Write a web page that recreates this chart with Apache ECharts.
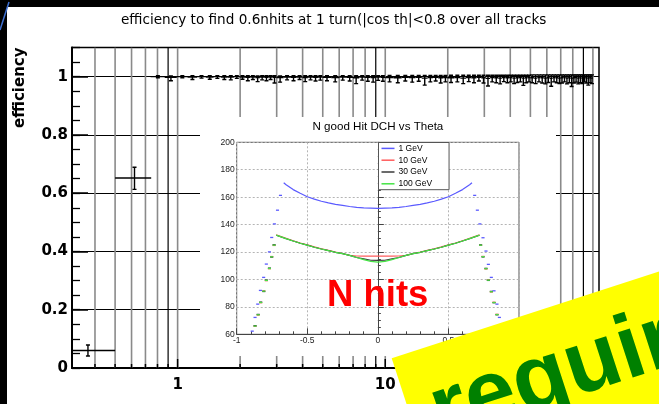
<!DOCTYPE html>
<html>
<head>
<meta charset="utf-8">
<script src="https://cdn.jsdelivr.net/npm/echarts@6/dist/echarts.min.js"></script>
<style>
  html, body { margin: 0; padding: 0; background: #fff; }
  #chart { width: 659px; height: 404px; }
</style>
</head>
<body>
<div id="chart"></div>
<script>
// ---------- main plot: efficiency vs momentum (log scale) ----------
const binEdges = [
  0.741, 0.866, 0.991, 1.116, 1.241, 1.366, 1.491, 1.616, 1.741, 1.866, 1.991,
  2.116, 2.241, 2.366, 2.491, 2.616, 2.741, 2.866, 2.991,
  3.241, 3.491, 3.741, 3.991, 4.241, 4.491, 4.741, 4.991,
  5.491, 5.991, 6.491, 6.991, 7.491, 7.991, 8.491, 8.991, 9.491, 9.991,
  10.99, 11.99, 12.99, 13.99, 14.99, 15.99, 16.99, 17.99, 18.99, 19.99,
  21.49, 22.99, 24.49, 25.99, 27.49, 28.99, 30.49, 31.99, 33.49, 34.99,
  36.49, 37.99, 39.49, 40.99, 42.49, 43.99, 45.49, 46.99, 48.49, 49.99,
  51.99, 53.99, 55.99, 57.99, 59.99, 61.99, 63.99, 65.99, 67.99, 69.99,
  71.99, 73.99, 75.99, 77.99, 79.99, 81.99, 83.99, 85.99, 87.99, 89.99,
  91.99, 93.99, 95.99, 97.99, 99.99
];
const effValues = [
  1.000, 0.998, 1.000, 0.999, 1.000, 0.999, 1.000, 0.999, 0.999, 1.000,
  0.999, 0.998, 0.999, 0.997, 0.999, 0.998, 0.999, 0.998,
  0.997, 0.999, 0.998, 0.999, 0.997, 0.999, 0.998, 0.999,
  0.998, 0.997, 0.999, 0.998, 0.996, 0.999, 0.998, 0.997, 0.999, 0.998,
  0.997, 0.996, 0.998, 0.997, 0.998, 0.995, 0.997, 0.998, 0.996, 0.997,
  0.996, 0.997, 0.995, 0.997, 0.996, 0.998, 0.996, 0.994, 0.997, 0.996,
  0.995, 0.997, 0.996, 0.997, 0.995, 0.996, 0.997, 0.995, 0.996, 0.997,
  0.996, 0.995, 0.997, 0.996, 0.995, 0.996, 0.994, 0.997, 0.996, 0.995,
  0.996, 0.997, 0.995, 0.996, 0.994, 0.996, 0.997, 0.995, 0.996, 0.995,
  0.997, 0.996, 0.995, 0.996, 0.995
];
const effErrDown = [
  0.004, 0.012, 0.004, 0.009, 0.005, 0.008, 0.006, 0.009, 0.010, 0.006,
  0.008, 0.012, 0.009, 0.014, 0.010, 0.012, 0.009, 0.020,
  0.016, 0.010, 0.012, 0.009, 0.014, 0.010, 0.013, 0.011,
  0.012, 0.015, 0.011, 0.013, 0.020, 0.011, 0.014, 0.016, 0.012, 0.014,
  0.015, 0.017, 0.013, 0.016, 0.014, 0.024, 0.015, 0.013, 0.018, 0.015,
  0.016, 0.015, 0.019, 0.014, 0.017, 0.013, 0.018, 0.026, 0.015, 0.017,
  0.020, 0.014, 0.017, 0.015, 0.019, 0.016, 0.015, 0.025, 0.017, 0.015,
  0.017, 0.019, 0.015, 0.018, 0.020, 0.016, 0.027, 0.015, 0.017, 0.019,
  0.018, 0.015, 0.020, 0.017, 0.028, 0.018, 0.016, 0.020, 0.017, 0.019,
  0.015, 0.018, 0.024, 0.017, 0.019
];
const effErrUp = [
  0.003, 0.004, 0.003, 0.004, 0.003, 0.004, 0.003, 0.004, 0.004, 0.003,
  0.004, 0.005, 0.004, 0.005, 0.004, 0.005, 0.004, 0.005,
  0.005, 0.004, 0.005, 0.004, 0.006, 0.004, 0.005, 0.004,
  0.005, 0.006, 0.004, 0.005, 0.007, 0.004, 0.005, 0.006, 0.004, 0.005,
  0.007, 0.008, 0.006, 0.007, 0.006, 0.009, 0.007, 0.006, 0.008, 0.007,
  0.009, 0.008, 0.010, 0.008, 0.009, 0.007, 0.009, 0.011, 0.008, 0.009,
  0.010, 0.008, 0.009, 0.008, 0.010, 0.009, 0.008, 0.010, 0.009, 0.008,
  0.010, 0.011, 0.009, 0.010, 0.011, 0.010, 0.012, 0.009, 0.010, 0.011,
  0.010, 0.009, 0.011, 0.010, 0.012, 0.010, 0.009, 0.011, 0.010, 0.011,
  0.009, 0.010, 0.011, 0.010, 0.011
];

// two low-momentum bins with wide errors
const lowX       = [0.37, 0.62];
const lowXLo     = [0.274, 0.5];
const lowXHi     = [0.5, 0.746];
const lowEff     = [0.06, 0.652];
const lowErrDown = [0.019, 0.039];
const lowErrUp   = [0.019, 0.037];

// axis ranges and log grid positions
const momMin = 0.31, momMax = 107;
const effMin = 0, effMax = 1.1;
const logGridX = [0.4, 0.5, 0.6, 0.7, 0.8, 0.9, 1, 2, 3, 4, 5, 6, 7, 8, 9, 10,
                  20, 30, 40, 50, 60, 70, 80, 90, 100];
const darkGridX = [0.9, 9, 90];
const decadeX = [1, 10, 100];

// ---------- inset: N good hits in DCH vs cos(theta) ----------
const energyNames = ['1 GeV', '10 GeV', '30 GeV', '100 GeV'];
const energyColors = ['#5a5aff', '#ff5c5c', '#3a3a3a', '#45e445'];

const thetaLow = [-0.667, -0.65, -0.6, -0.55, -0.5, -0.45, -0.4, -0.35, -0.3, -0.25, -0.2, -0.15, -0.1, -0.05,
                  0, 0.05, 0.1, 0.15, 0.2, 0.25, 0.3, 0.35, 0.4, 0.45, 0.5, 0.55, 0.6, 0.65, 0.667];
const nhits1 = [170.5, 169, 165.5, 162.8, 160.3, 158.6, 157, 155.8, 154.8, 154, 153.2, 152.6, 152.2, 152,
                151.8, 152, 152.2, 152.6, 153.2, 154, 154.8, 155.8, 157, 158.6, 160.3, 162.8, 165.5, 169, 170.5];

const thetaHigh = [-0.72, -0.7, -0.65, -0.6, -0.55, -0.5, -0.45, -0.4, -0.35, -0.3, -0.25, -0.2, -0.15, -0.1, -0.05,
                   0, 0.05, 0.1, 0.15, 0.2, 0.25, 0.3, 0.35, 0.4, 0.45, 0.5, 0.55, 0.6, 0.65, 0.7, 0.72];
const nhits10  = [132.5, 131.8, 130, 128.2, 126.6, 125.2, 123.7, 122.4, 121.2, 120, 118.9, 117.5, 117.1, 117, 117,
                  117, 117, 117, 117.1, 117.5, 118.9, 120, 121.2, 122.4, 123.7, 125.2, 126.6, 128.2, 130, 131.8, 132.5];
const nhits30  = [132.2, 131.5, 129.7, 128, 126.4, 125, 123.5, 122.2, 121, 119.8, 118.8, 117.6, 116, 115, 114,
                  113.9, 114, 115, 116, 117.6, 118.8, 119.8, 121, 122.2, 123.5, 125, 126.4, 128, 129.7, 131.5, 132.2];
const nhits100 = [132.3, 131.6, 129.8, 128, 126.4, 125, 123.5, 122.2, 121, 119.8, 118.8, 117.6, 116, 114.5, 113.2,
                  112.6, 113.2, 114.5, 116, 117.6, 118.8, 119.8, 121, 122.2, 123.5, 125, 126.4, 128, 129.8, 131.6, 132.3];

// edge bins (steep fall-off near the endcaps)
const thetaEdge1 = [-0.69, -0.711, -0.733, -0.752, -0.768, -0.79, -0.809, -0.832, -0.851, -0.87, -0.89,
                     0.686, 0.705, 0.723, 0.745, 0.766, 0.783, 0.804, 0.823, 0.844, 0.861, 0.88];
const nhitsEdge1 = [161.3, 150.5, 140.5, 130.6, 120.1, 111.2, 101.5, 92, 82, 72.3, 62.3,
                    161.3, 150.5, 140.5, 130.4, 120.7, 111, 101.5, 91.7, 82, 72.3, 62.5];
const thetaEdgeHigh = [-0.735, -0.752, -0.768, -0.79, -0.808, -0.83, -0.848, -0.87,
                        0.728, 0.745, 0.766, 0.783, 0.804, 0.823, 0.844, 0.862];
const nhitsEdge10  = [124.8, 116.7, 107.8, 99.1, 91.7, 83, 74, 65.8, 124.9, 116.8, 107.6, 99.7, 90.8, 83.4, 74.6, 65.8];
const nhitsEdge30  = [125.3, 116.3, 108.3, 99.6, 91.2, 83.5, 74.5, 66.3, 125.2, 116.4, 108.1, 99.3, 91.3, 83, 74.2, 66.2];
const nhitsEdge100 = [125, 116.5, 108, 99.3, 91.5, 83.2, 74.2, 66, 125, 116.6, 107.8, 99.5, 91, 83.2, 74.4, 66];
const dashHalfWidth = 0.011;

// ---------- build series data ----------
const pairs = (xs, ys) => xs.map((x, i) => [x, ys[i]]);

const effData = effValues.map((v, i) => {
  const lo = binEdges[i], hi = binEdges[i + 1];
  return [lo, hi, v, effErrDown[i], effErrUp[i], (lo + hi) / 2];
});
const lowData = lowX.map((x, i) => [lowXLo[i], lowXHi[i], lowEff[i], lowErrDown[i], lowErrUp[i], x]);
const gridLineData = logGridX.map(x => [x, darkGridX.includes(x) ? 1 : 0, decadeX.includes(x) ? 1 : 0]);

function renderErrorBar(params, api) {
  const lo = api.value(0), hi = api.value(1), y = api.value(2);
  const dn = api.value(3), up = api.value(4), xc = api.value(5);
  const a = api.coord([lo, y]), b = api.coord([hi, y]), c = api.coord([xc, y]);
  const d = api.coord([xc, y - dn]), u = api.coord([xc, y + up]);
  const st = { stroke: '#000', lineWidth: 1.4 };
  const cap = 2;
  const children = [
    { type: 'line', shape: { x1: a[0], y1: a[1], x2: b[0], y2: b[1] }, style: st },
    { type: 'line', shape: { x1: c[0], y1: u[1], x2: c[0], y2: d[1] }, style: st },
    { type: 'line', shape: { x1: c[0] - cap, y1: d[1], x2: c[0] + cap, y2: d[1] }, style: st }
  ];
  if (up > 0) {
    children.push({ type: 'line', shape: { x1: c[0] - cap, y1: u[1], x2: c[0] + cap, y2: u[1] }, style: st });
  }
  return { type: 'group', children };
}

function renderGridLine(params, api) {
  const x = api.value(0), dark = api.value(1), decade = api.value(2);
  const top = api.coord([x, effMax]), bot = api.coord([x, effMin]);
  return {
    type: 'group',
    children: [
      { type: 'line', shape: { x1: top[0], y1: top[1], x2: bot[0], y2: bot[1] },
        style: { stroke: dark ? '#000' : '#8a8a8a', lineWidth: dark ? 1.2 : 1.6 } },
      { type: 'line', shape: { x1: bot[0], y1: bot[1], x2: bot[0], y2: bot[1] - (decade ? 9 : 4) },
        style: { stroke: '#000', lineWidth: 1.5 } }
    ]
  };
}

function renderDash(params, api) {
  const x = api.value(0), n = api.value(1);
  const a = api.coord([x - dashHalfWidth, n]), b = api.coord([x + dashHalfWidth, n]);
  return { type: 'line', shape: { x1: a[0], y1: a[1], x2: b[0], y2: b[1] },
           style: { stroke: api.visual('color'), lineWidth: 1.3 } };
}

const insetLines = [pairs(thetaLow, nhits1), pairs(thetaHigh, nhits10), pairs(thetaHigh, nhits30), pairs(thetaHigh, nhits100)];
const insetEdges = [pairs(thetaEdge1, nhitsEdge1), pairs(thetaEdgeHigh, nhitsEdge10),
                    pairs(thetaEdgeHigh, nhitsEdge30), pairs(thetaEdgeHigh, nhitsEdge100)];

const insetSeries = [];
energyNames.forEach((name, i) => {
  insetSeries.push({
    name, type: 'line', xAxisIndex: 1, yAxisIndex: 2, data: insetLines[i],
    showSymbol: false, symbol: 'none', smooth: false, z: 20 + i,
    lineStyle: { color: energyColors[i], width: 1.2 }, itemStyle: { color: energyColors[i] }
  });
  insetSeries.push({
    name, type: 'custom', xAxisIndex: 1, yAxisIndex: 2, data: insetEdges[i],
    renderItem: renderDash, z: 20 + i, itemStyle: { color: energyColors[i] }
  });
});

const chart = echarts.init(document.getElementById('chart'), null, { renderer: 'canvas' });

chart.setOption({
  animation: false,
  backgroundColor: '#fff',
  title: [
    { text: 'efficiency to find 0.6nhits at 1 turn(|cos th|<0.8 over all tracks',
      left: 121, top: 13, padding: 0,
      textStyle: { fontFamily: 'DejaVu Sans', fontSize: 13.6, fontWeight: 'normal', color: '#000' } },
    { text: 'N good Hit DCH vs Theta', left: 312.5, top: 120.5, padding: 0, z: 30,
      textStyle: { fontFamily: 'Liberation Sans', fontSize: 11.6, fontWeight: 'normal', color: '#000' } }
  ],
  legend: {
    data: energyNames.map(n => ({ name: n, icon: 'rect' })),
    orient: 'vertical', left: 378.5, top: 142.5, z: 30,
    padding: [0, 17, 0, 3], itemGap: 0, itemWidth: 13, itemHeight: 1.5,
    backgroundColor: '#fff', borderColor: '#555', borderWidth: 1, borderRadius: 0,
    selectedMode: false,
    textStyle: { fontFamily: 'Liberation Sans', fontSize: 8.5, color: '#000', lineHeight: 11.8, padding: [0, 0, 0, -1] }
  },
  grid: [
    { left: 72, top: 47.5, right: 60, bottom: 36, show: true, borderColor: '#000', borderWidth: 1.5,
      backgroundColor: 'transparent', containLabel: false, outerBoundsMode: 'none' },
    { left: 236.7, top: 142.3, width: 282.3, height: 192, show: true, borderColor: '#555', borderWidth: 1,
      backgroundColor: 'transparent', containLabel: false, outerBoundsMode: 'none', z: 16 }
  ],
  xAxis: [
    { type: 'log', logBase: 10, gridIndex: 0, min: momMin, max: momMax,
      axisLine: { show: true, lineStyle: { color: '#000', width: 2 } },
      axisTick: { show: false }, minorTick: { show: false }, splitLine: { show: false },
      axisLabel: { margin: 10, fontFamily: 'DejaVu Sans', fontWeight: 'bold', fontSize: 15, color: '#000',
                   showMinLabel: false, showMaxLabel: false,
                   formatter: v => (v >= 1 ? String(Math.round(v)) : '') } },
    { type: 'value', gridIndex: 1, min: -1, max: 1, interval: 0.5, z: 17,
      axisLine: { show: true, lineStyle: { color: '#444', width: 1 } },
      axisTick: { inside: true, length: 6, lineStyle: { color: '#444' } },
      minorTick: { show: true, splitNumber: 5, length: 3, lineStyle: { color: '#444' } },
      splitLine: { show: true, lineStyle: { color: '#b4b4b4', type: [2, 2], width: 1 } },
      axisLabel: { margin: 2, fontFamily: 'Liberation Sans', fontSize: 8.5, color: '#222' } }
  ],
  yAxis: [
    { type: 'value', gridIndex: 0, min: effMin, max: effMax, interval: 0.2, position: 'left',
      axisLine: { show: true, lineStyle: { color: '#000', width: 2 } },
      axisTick: { show: true, inside: true, length: 16, lineStyle: { color: '#000', width: 1.5 } },
      splitLine: { show: true, lineStyle: { color: '#000', width: 1 } },
      axisLabel: { margin: 4, fontFamily: 'DejaVu Sans', fontWeight: 'bold', fontSize: 15, color: '#000',
                   showMaxLabel: false,
                   formatter: v => (v === 0 ? '0' : Math.abs(v - 1) < 1e-9 ? '1' : v.toFixed(1)) } },
    { type: 'value', gridIndex: 0, min: effMin, max: effMax, interval: 0.05, position: 'left', offset: 0,
      axisLine: { show: false },
      axisTick: { show: true, inside: true, length: 8, lineStyle: { color: '#000', width: 1.3 } },
      splitLine: { show: false }, axisLabel: { show: false } },
    { type: 'value', gridIndex: 1, min: 60, max: 200, interval: 20, z: 17,
      axisLine: { show: true, lineStyle: { color: '#444', width: 1 } },
      axisTick: { inside: true, length: 6, lineStyle: { color: '#444' } },
      minorTick: { show: true, splitNumber: 4, length: 3, lineStyle: { color: '#444' } },
      splitLine: { show: true, lineStyle: { color: '#b4b4b4', type: [2, 2], width: 1 } },
      axisLabel: { margin: 2, fontFamily: 'Liberation Sans', fontSize: 8.5, color: '#222' } }
  ],
  series: [
    { type: 'custom', xAxisIndex: 0, yAxisIndex: 0, data: gridLineData, renderItem: renderGridLine,
      clip: true, z: 2, silent: true },
    { type: 'custom', xAxisIndex: 0, yAxisIndex: 0, data: effData, renderItem: renderErrorBar,
      clip: true, z: 4, encode: { x: [0, 1, 5], y: 2 } },
    { type: 'custom', xAxisIndex: 0, yAxisIndex: 0, data: lowData, renderItem: renderErrorBar,
      clip: true, z: 4, encode: { x: [0, 1, 5], y: 2 } }
  ].concat(insetSeries),
  graphic: [
    // inset canvas
    { type: 'rect', shape: { x: 200, y: 117, width: 356, height: 239 }, style: { fill: '#fff' }, z: 10, silent: true },
    // y-axis title
    { type: 'text', x: 20, y: 47.5, rotation: Math.PI / 2, z: 30,
      style: { text: 'efficiency', fill: '#000', font: 'bold 15px "DejaVu Sans"',
               align: 'right', verticalAlign: 'middle', textAlign: 'right', textVerticalAlign: 'middle' } },
    // inset annotation
    { type: 'text', x: 327, y: 296, z: 35,
      style: { text: 'N hits', fill: '#ff0000', font: 'bold 36.5px "Liberation Sans"',
               align: 'left', verticalAlign: 'middle', textAlign: 'left', textVerticalAlign: 'middle' } },
    // yellow banner
    { type: 'group', x: 391.7, y: 358.3, rotation: 18 * Math.PI / 180, z: 50,
      children: [
        { type: 'rect', shape: { x: 0, y: 0, width: 520, height: 300 }, style: { fill: '#ffff00' }, z: 50 },
        { type: 'text', x: 22, y: 68, z: 51,
          style: { text: 'requirement', fill: '#008000', font: 'bold 90px "Liberation Sans"',
                   align: 'left', verticalAlign: 'middle', textAlign: 'left', textVerticalAlign: 'middle' } }
      ] },
    // dark frame around the page
    { type: 'rect', shape: { x: 0, y: 0, width: 659, height: 7 }, style: { fill: '#000' }, z: 60, silent: true },
    { type: 'rect', shape: { x: 0, y: 0, width: 7, height: 404 }, style: { fill: '#000' }, z: 60, silent: true },
    { type: 'line', shape: { x1: 0, y1: 30, x2: 9, y2: 2 }, style: { stroke: '#3e6fd0', lineWidth: 1.5 }, z: 61, silent: true }
  ]
});
</script>
</body>
</html>
